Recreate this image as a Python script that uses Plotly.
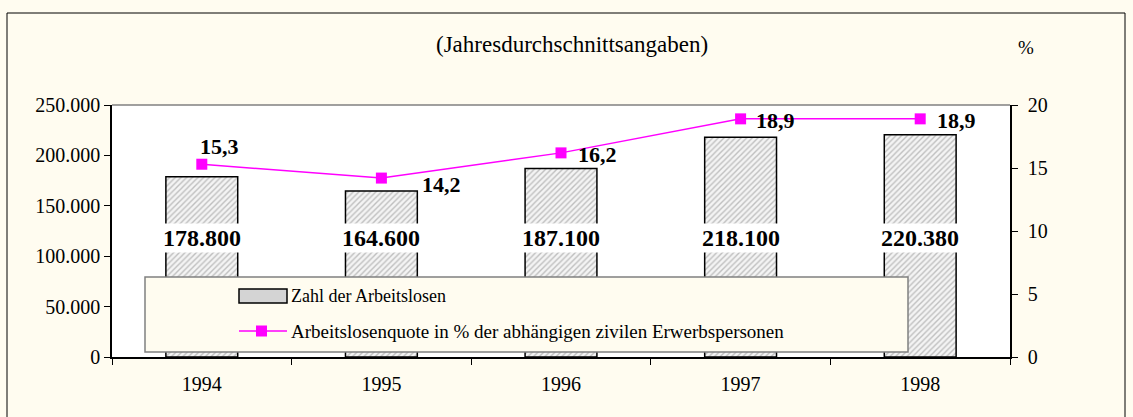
import plotly.graph_objects as go

years = ["1994", "1995", "1996", "1997", "1998"]
arbeitslose = [178800, 164600, 187100, 218100, 220380]
quote = [15.3, 14.2, 16.2, 18.9, 18.9]
bar_labels = ["178.800", "164.600", "187.100", "218.100", "220.380"]
quote_labels = ["15,3", "14,2", "16,2", "18,9", "18,9"]
bar_name = "Zahl der Arbeitslosen"
line_name = "Arbeitslosenquote in % der abhängigen zivilen Erwerbspersonen"

FONT = "Liberation Serif, Times New Roman, serif"
CREAM = "#FFFCF0"
MAG = "#FF00FF"

# layout geometry (px)
L, R, T, B = 112, 123, 105, 60
W, H = 1133, 417
PW, PH = W - L - R, H - T - B
def px(x):
    return (x - L) / PW
def py(y):
    return (H - B - y) / PH

fig = go.Figure()
fig.add_trace(go.Bar(
    x=years, y=arbeitslose, name=bar_name, width=0.4, showlegend=False,
    marker=dict(color="white", line=dict(color="black", width=1.5),
                pattern=dict(shape="/", fgcolor="#8a8a8a", bgcolor="#f4f4f4", size=4, solidity=0.35)),
))
fig.add_trace(go.Scatter(
    x=years, y=quote, yaxis="y2", mode="lines+markers", name=line_name, showlegend=False,
    line=dict(color=MAG, width=1.5), marker=dict(symbol="square", size=11, color=MAG),
))

# bar value labels
for i, lab in enumerate(bar_labels):
    fig.add_annotation(x=i, y=118000, text="<b>%s</b>" % lab, showarrow=False,
                       font=dict(family=FONT, size=24, color="black"), bgcolor="white", borderpad=1)

# line value labels (offsets in px)
offs = [(18, 18), (60, -6), (36, -2), (35, -2), (36, -2)]
for i, (q, lab, (dx, dy)) in enumerate(zip(quote, quote_labels, offs)):
    fig.add_annotation(x=i, y=q, yref="y2", text="<b>%s</b>" % lab, showarrow=False,
                       xshift=dx, yshift=dy, font=dict(family=FONT, size=22, color="black"))

# outer frame
fig.add_shape(type="rect", xref="paper", yref="paper", x0=px(7), x1=px(1125), y0=py(430), y1=py(13),
              line=dict(color="black", width=1), fillcolor="rgba(0,0,0,0)", layer="below")
# legend box (manual legend)
fig.add_shape(type="rect", xref="paper", yref="paper", x0=px(145), x1=px(908),
              y0=py(352), y1=py(277), line=dict(color="#808080", width=1.5),
              fillcolor=CREAM, layer="above")
fig.add_shape(type="rect", xref="paper", yref="paper", x0=px(239), x1=px(287),
              y0=py(303), y1=py(289), line=dict(color="black", width=1.5),
              fillcolor="#d4d4d4", layer="above")
fig.add_shape(type="line", xref="paper", yref="paper", x0=px(239), x1=px(287),
              y0=py(331), y1=py(331), line=dict(color=MAG, width=1.5), layer="above")
fig.add_shape(type="rect", xref="paper", yref="paper", x0=px(256), x1=px(267),
              y0=py(336.5), y1=py(325.5), line=dict(color=MAG, width=0),
              fillcolor=MAG, layer="above")
fig.add_annotation(xref="paper", yref="paper", x=px(289), y=py(296), xanchor="left", yanchor="middle",
                   text=bar_name, showarrow=False, font=dict(family=FONT, size=18, color="black"))
fig.add_annotation(xref="paper", yref="paper", x=px(289), y=py(331), xanchor="left", yanchor="middle",
                   text=line_name, showarrow=False, font=dict(family=FONT, size=19, color="black"))

fig.add_annotation(xref="paper", yref="paper", x=px(572), y=py(45), yanchor="middle",
                   text="(Jahresdurchschnittsangaben)",
                   showarrow=False, font=dict(family=FONT, size=23, color="black"))
fig.add_annotation(xref="paper", yref="paper", x=px(1036), y=py(48), yanchor="middle", text="%",
                   showarrow=False, font=dict(family=FONT, size=19, color="black"))

fig.update_layout(
    width=W, height=H,
    margin=dict(l=L, r=R, t=T, b=B),
    paper_bgcolor=CREAM, plot_bgcolor="white",
    separators=",.",
    font=dict(family=FONT, size=20, color="black"),
    showlegend=False,
    xaxis=dict(type="category", range=[-0.5, 4.5], showline=True, linecolor="black", linewidth=1.5,
               ticks="outside", tickson="boundaries", ticklen=6, tickcolor="black",
               ticklabelstandoff=8,
               mirror=False, showgrid=False, tickfont=dict(size=20), tickangle=0),
    yaxis=dict(range=[0, 250000], tickvals=[0, 50000, 100000, 150000, 200000, 250000],
               tickformat=",d", showline=True, linecolor="black", linewidth=1.5,
               ticks="outside", ticklen=6, tickcolor="black", showgrid=False, zeroline=False,
               tickfont=dict(size=20)),
    yaxis2=dict(range=[0, 20], tickvals=[0, 5, 10, 15, 20], overlaying="y", side="right",
                showline=True, linecolor="black", linewidth=1.5, ticks="outside", ticklen=6,
                ticklabelstandoff=6,
                tickcolor="black", showgrid=False, zeroline=False, tickfont=dict(size=20)),
)
# top border of plot area (gray)
fig.add_shape(type="line", xref="paper", yref="paper", x0=0, x1=1, y0=1, y1=1,
              line=dict(color="#808080", width=1.5))

fig.write_html("out.html", config={"displayModeBar": False},
               post_script="document.body.style.margin='0';document.body.style.overflow='hidden';")
